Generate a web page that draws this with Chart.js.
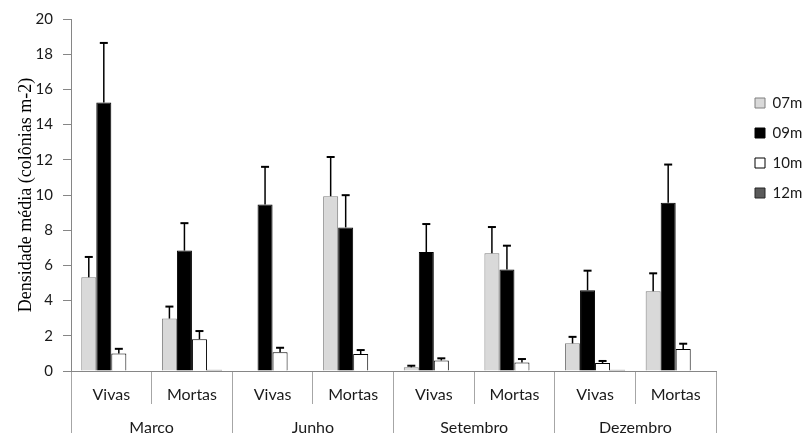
<!DOCTYPE html>
<html><head><meta charset="utf-8">
<script src="https://cdn.jsdelivr.net/npm/chart.js@4"></script>
<style>html,body{margin:0;padding:0;background:#fff;overflow:hidden}#wrap{position:relative;width:803px;height:433px}</style>
</head><body><div id="wrap"><canvas id="c" width="803" height="433"></canvas></div>
<script>
const categories = ['Vivas','Mortas','Vivas','Mortas','Vivas','Mortas','Vivas','Mortas'];
const months = ['Marco','Junho','Setembro','Dezembro'];
const seriesNames = ['07m','09m','10m','12m'];
const yTicks = [0,2,4,6,8,10,12,14,16,18,20];

const v07 = [5.33, 2.98, 0, 9.93, 0.21, 6.69, 1.57, 4.53];
const v09 = [15.26, 6.84, 9.46, 8.16, 6.76, 5.76, 4.59, 9.56];
const v10 = [1.00, 1.81, 1.06, 0.96, 0.60, 0.49, 0.45, 1.25];
const v12 = [0, 0.07, 0, 0, 0, 0, 0.07, 0];

const e07 = [1.15, 0.68, 0, 2.23, 0.09, 1.49, 0.37, 1.02];
const e09 = [3.38, 1.56, 2.14, 1.83, 1.59, 1.36, 1.11, 2.17];
const e10 = [0.26, 0.46, 0.26, 0.23, 0.12, 0.19, 0.12, 0.30];
const e12 = [0, 0, 0, 0, 0, 0, 0, 0];

const values = [v07, v09, v10, v12];
const errors = [e07, e09, e10, e12];
const fills = ['#d9d9d9', '#000000', '#ffffff', '#5a5a5a'];
const borders = ['#7f7f7f', '#000000', '#000000', '#262626'];

const errorBars = {
  id: 'errorBars',
  afterDatasetsDraw(chart) {
    const ctx = chart.ctx, ys = chart.scales.y;
    chart.data.datasets.forEach((ds, i) => {
      const meta = chart.getDatasetMeta(i);
      meta.data.forEach((bar, j) => {
        const v = values[i][j], e = errors[i][j];
        if (!e) return;
        const x = bar.x, yt = ys.getPixelForValue(v), ye = ys.getPixelForValue(v + e);
        ctx.save();
        ctx.strokeStyle = '#000';
        ctx.lineWidth = 1.5;
        ctx.beginPath(); ctx.moveTo(x, yt); ctx.lineTo(x, ye); ctx.stroke();
        ctx.lineWidth = 2;
        ctx.beginPath(); ctx.moveTo(x - 4, ye); ctx.lineTo(x + 4, ye); ctx.stroke();
        ctx.restore();
      });
    });
  }
};

const legendPlace = {
  id: 'legendPlace',
  beforeLayout(chart) {
    const lg = chart.legend;
    if (lg && !lg._wrapped) {
      const f = lg.fit.bind(lg);
      lg.fit = function () { f(); this.width = 87; };
      lg._wrapped = true;
    }
  },
  afterLayout(chart) {
    const lg = chart.legend;
    if (lg) { lg.left = 740; lg.top = 80.5; }
  }
};

new Chart(document.getElementById('c'), {
  type: 'bar',
  data: {
    labels: categories,
    datasets: seriesNames.map((n, i) => ({
      label: n,
      data: values[i],
      backgroundColor: fills[i],
      borderColor: borders[i],
      borderWidth: 1,
      categoryPercentage: 0.745,
      barPercentage: 1.0
    }))
  },
  options: {
    responsive: false,
    animation: false,
    layout: { padding: { top: 18, left: 0, right: 0, bottom: 0 } },
    plugins: {
      tooltip: { enabled: false },
      legend: {
        position: 'right',
        align: 'start',
        labels: { boxWidth: 10, boxHeight: 10, padding: 15, font: { family: 'Lato', size: 15 }, color: '#1a1a1a' }
      }
    },
    scales: {
      x: {
        type: 'category',
        offset: true,
        grid: { offset: true, drawOnChartArea: false, tickLength: 33, color: '#a6a6a6' },
        border: { color: '#868686' },
        ticks: { padding: -19, font: { family: 'Lato', size: 16 }, color: '#1a1a1a', maxRotation: 0, autoSkip: false },
        afterFit: s => { s.height = 33; }
      },
      x2: {
        type: 'category',
        labels: months,
        position: 'bottom',
        offset: true,
        grid: { offset: true, drawOnChartArea: false, tickLength: 30, color: '#a6a6a6' },
        border: { display: false },
        ticks: { padding: -16, font: { family: 'Lato', size: 16 }, color: '#1a1a1a', maxRotation: 0, autoSkip: false },
        afterFit: s => { s.height = 29; }
      },
      y: {
        min: 0, max: 20,
        afterBuildTicks: s => { s.ticks = yTicks.map(v => ({ value: v })); },
        ticks: { padding: 10, font: { family: 'Lato', size: 15 }, color: '#1a1a1a' },
        grid: { drawOnChartArea: false, tickLength: 8, color: '#868686' },
        border: { color: '#868686' },
        title: { display: true, text: 'Densidade média (colônias m-2)', font: { family: 'Liberation Serif', size: 18 }, color: '#000', padding: { top: 15, bottom: 0 } },
        afterFit: s => { s.width = 71; }
      }
    }
  },
  plugins: [errorBars, legendPlace]
});
</script></body></html>
